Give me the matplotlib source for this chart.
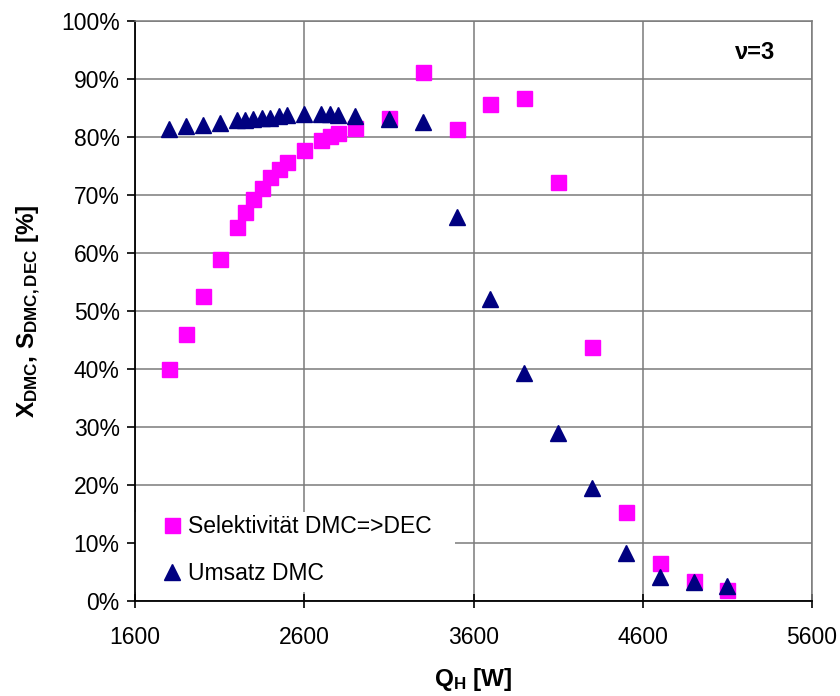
import matplotlib
matplotlib.use("Agg")
import matplotlib.pyplot as plt
from matplotlib.ticker import FuncFormatter
from matplotlib.patches import Rectangle

plt.rcParams['font.family'] = ['Liberation Sans', 'DejaVu Sans']
plt.rcParams['mathtext.fontset'] = 'custom'
plt.rcParams['mathtext.rm'] = 'Liberation Sans'
plt.rcParams['mathtext.bf'] = 'Liberation Sans:bold'
plt.rcParams['mathtext.it'] = 'Liberation Sans:italic'

# Data
q_sel = [1800, 1900, 2000, 2100, 2200, 2250, 2300, 2350, 2400, 2450, 2500,
         2600, 2700, 2750, 2800, 2900, 3100, 3300, 3500, 3700, 3900, 4100,
         4300, 4500, 4700, 4900, 5100]
selektivitaet = [40.0, 46.1, 52.7, 59.0, 64.6, 67.2, 69.4, 71.2, 73.1, 74.5, 75.8,
                 77.8, 79.5, 80.2, 80.7, 81.6, 83.3, 91.3, 81.5, 85.7, 86.7, 72.3,
                 43.9, 15.4, 6.6, 3.5, 2.0]
q_ums = [1800, 1900, 2000, 2100, 2200, 2250, 2300, 2350, 2400, 2450, 2500,
         2600, 2700, 2750, 2800, 2900, 3100, 3300, 3500, 3700, 3900, 4100,
         4300, 4500, 4700, 4900, 5100]
umsatz = [81.4, 81.9, 82.2, 82.4, 82.9, 82.9, 83.1, 83.3, 83.4, 83.7, 83.8,
          84.0, 84.1, 84.0, 83.8, 83.7, 83.2, 82.7, 66.3, 52.2, 39.4, 29.0,
          19.5, 8.4, 4.2, 3.3, 2.6]
x_ticks = [1600, 2600, 3600, 4600, 5600]
y_ticks = [0, 10, 20, 30, 40, 50, 60, 70, 80, 90, 100]

fig = plt.figure(figsize=(8.4, 6.96), dpi=100)
ax = fig.add_axes([135/840, 1-601.3/696, 677/840, 580/696])

grid_c = '#7a7a7a'
ax.plot(q_sel, selektivitaet, linestyle='none', marker='s', ms=10.8,
        mfc='#FF00FF', mec='#FF00FF', label='Selektivität DMC=>DEC', zorder=3)
ax.plot(q_ums, umsatz, linestyle='none', marker='^', ms=11.8,
        mfc='#000080', mec='#000080', label='Umsatz DMC', zorder=4)

ax.set_xlim(1600, 5600)
ax.set_ylim(0, 100)
ax.set_xticks(x_ticks)
ax.set_yticks(y_ticks)
ax.yaxis.set_major_formatter(FuncFormatter(lambda v, p: f'{int(v)}%'))
ax.grid(True, color=grid_c, linewidth=1.1)
ax.set_axisbelow(True)

for s in ['left', 'bottom']:
    ax.spines[s].set_color('black')
    ax.spines[s].set_linewidth(1.3)
for s in ['top', 'right']:
    ax.spines[s].set_color(grid_c)
    ax.spines[s].set_linewidth(1.1)

ax.tick_params(axis='both', labelsize=16.5, colors='black', width=1.2)
ax.tick_params(axis='x', direction='inout', length=10, pad=13)
ax.tick_params(axis='y', direction='out', length=6, pad=5)

ax.set_xlabel(r'$\mathbf{Q_{H}}$ [W]', fontsize=17.5, fontweight='bold', labelpad=12)
ax.set_ylabel(r'$\mathbf{X_{DMC}}$, $\mathbf{S_{DMC,DEC}}$ [%]', fontsize=17.5,
              fontweight='bold', labelpad=13)

# white legend background box
ax.add_patch(Rectangle((0.0, (601.3-592)/580), (455-135)/677, (592-512)/580,
                       transform=ax.transAxes, facecolor='white', edgecolor='none',
                       zorder=2.5))

leg = ax.legend(loc='center left', bbox_to_anchor=(0.034, (601.3-550)/580),
                fontsize=16.5, frameon=False,
                handletextpad=0.1, handlelength=1.2, borderpad=0.0,
                labelspacing=1.07, borderaxespad=0.0)
leg.set_zorder(5)

ax.text(5263, 94.7, 'ν=3', fontsize=17, fontweight='bold', ha='center', va='center',
        bbox=dict(facecolor='white', edgecolor='none', pad=8), zorder=6)

fig.savefig('out.png', dpi=100)
